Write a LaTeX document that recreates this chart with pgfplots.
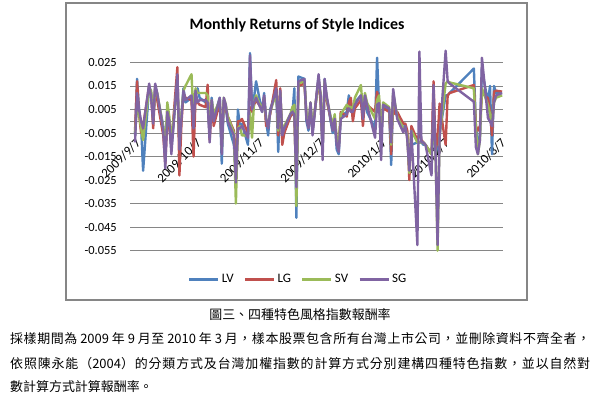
\documentclass[border=0pt]{standalone}
\usepackage{pgfplots}
\pgfplotsset{compat=1.18}
\usepackage{pgfplotstable}
\usepackage{fontspec}
\setmainfont{Carlito}
\newfontfamily\cjk{Noto Sans CJK TC}
\definecolor{cLV}{RGB}{79,129,189}
\definecolor{cLG}{RGB}{192,80,77}
\definecolor{cSV}{RGB}{155,187,89}
\definecolor{cSG}{RGB}{128,100,162}
\definecolor{gridc}{RGB}{134,134,134}
\newXeTeXintercharclass\cjkcls
\makeatletter
\count@="3000
\loop\ifnum\count@<"A000 \XeTeXcharclass\count@=\cjkcls \advance\count@\@ne\repeat
\count@="FF00
\loop\ifnum\count@<"FF61 \XeTeXcharclass\count@=\cjkcls \advance\count@\@ne\repeat
\makeatother
\XeTeXinterchartoks\cjkcls\cjkcls={\hskip0pt plus 1fil\relax}
\newcommand\cjkpar{\cjk\fontsize{13}{15}\selectfont\XeTeXinterchartokenstate=1 }
\pgfplotstableread{
d LV LG SV SG
0 -0.006 -0.004 -0.005 -0.009
1 0.018 0.017 0.006 0.012
2 0.005 0.003 0.003 0.005
3 -0.002 -0.005 -0.003 0.000
4 -0.021 -0.002 -0.008 -0.003
7 0.015 0.015 0.014 0.016
8 0.012 0.011 0.013 0.010
9 0.000 -0.003 0.001 -0.001
10 0.015 0.015 0.014 0.016
11 0.011 0.009 0.012 0.012
14 -0.002 -0.006 -0.003 -0.004
15 -0.016 -0.018 -0.012 -0.020
16 0.004 0.002 0.008 0.004
17 -0.001 -0.003 0.002 0.000
18 -0.012 -0.010 -0.009 -0.014
21 0.018 0.023 0.017 0.020
22 -0.010 -0.023 -0.009 -0.012
23 0.002 -0.001 0.003 0.001
24 0.014 0.012 0.013 0.013
25 0.008 0.010 0.015 0.009
28 0.010 0.009 0.020 0.011
29 -0.002 -0.015 0.002 -0.003
30 0.012 0.010 0.014 0.013
31 0.014 0.008 0.012 0.008
32 0.010 0.007 0.012 0.009
35 0.008 0.006 0.012 0.009
36 0.007 0.0155 0.011 0.008
37 -0.006 -0.008 -0.004 -0.009
38 0.010 0.008 0.009 0.009
39 0.001 -0.002 0.003 0.000
42 0.010 0.008 0.009 0.010
43 -0.018 -0.010 -0.012 -0.014
44 0.009 0.008 0.010 0.010
45 0.006 0.005 0.007 0.007
46 -0.001 0.002 0.002 0.000
49 -0.010 -0.004 -0.005 -0.006
50 -0.022 -0.020 -0.035 -0.026
51 0.005 0.000 -0.003 -0.003
52 -0.002 0.000 -0.002 -0.003
53 -0.001 0.001 -0.006 -0.002
56 -0.010 -0.005 -0.006 -0.007
57 0.029 0.006 0.004 0.028
58 0.006 0.004 -0.007 0.005
59 0.010 0.007 0.008 0.008
60 0.017 0.009 0.011 0.010
63 0.004 0.005 0.005 0.004
64 0.012 0.010 0.010 0.011
65 0.000 -0.002 0.001 0.001
66 -0.006 -0.001 -0.002 -0.003
67 0.005 0.003 0.004 0.004
70 0.013 0.0175 0.012 0.014
71 -0.013 -0.006 -0.004 -0.003
72 0.012 0.014 0.012 0.013
73 -0.008 -0.010 -0.005 -0.006
74 -0.004 -0.005 -0.002 -0.003
77 0.002 0.002 0.003 0.003
78 0.003 0.004 0.006 0.004
79 0.014 0.002 0.007 0.003
80 -0.041 -0.027 -0.036 -0.028
81 0.019 0.015 0.016 0.017
84 0.018 0.016 0.017 0.018
85 0.000 0.002 0.003 0.001
86 -0.004 -0.002 -0.001 -0.003
87 0.007 0.006 0.008 0.008
88 -0.005 -0.004 -0.003 -0.006
91 0.019 0.018 0.017 0.020
92 0.009 0.008 0.012 0.011
93 -0.012 -0.010 -0.011 -0.0165
94 0.018 0.016 0.017 0.018
95 0.010 0.009 0.010 0.011
98 -0.005 -0.003 -0.002 -0.004
99 0.000 0.002 0.003 0.001
100 -0.012 -0.008 -0.008 -0.010
101 -0.014 -0.011 -0.010 -0.013
102 0.002 0.004 0.003 0.001
105 0.004 0.002 0.007 0.003
106 0.011 0.008 0.006 0.0055
107 0.005 0.010 0.006 0.004
108 0.003 0.000 0.0055 0.004
109 0.008 0.0055 0.010 0.007
112 0.011 0.009 0.0154 0.011
113 0.003 -0.002 0.004 0.001
114 0.009 0.010 0.012 0.011
115 0.004 0.007 0.008 0.007
119 -0.003 0.004 0.001 -0.007
120 0.027 0.0125 0.009 0.007
121 0.007 0.009 0.011 0.0077
122 -0.004 -0.006 -0.008 -0.0165
123 0.006 0.0055 0.008 0.007
126 0.005 0.004 0.006 0.0055
127 -0.0186 -0.014 -0.010 -0.009
128 0.012 0.011 0.012 0.0137
129 0.006 0.003 0.007 0.007
130 0.002 0.004 0.002 0.001
133 -0.0027 -0.001 -0.003 -0.0047
134 -0.002 -0.001 -0.003 -0.002
135 -0.006 -0.004 -0.006 -0.008
136 -0.020 -0.025 -0.022 -0.021
137 -0.010 -0.002 -0.004 -0.004
140 -0.009 -0.008 -0.009 -0.0526
141 -0.009 -0.005 -0.009 0.0296
142 -0.009 -0.008 -0.009 -0.009
143 -0.010 -0.009 -0.009 -0.009
144 -0.010 -0.010 -0.010 -0.010
147 -0.014 -0.014 -0.014 -0.023
148 0.000 0.017 0.002 0.0154
149 -0.014 -0.012 -0.014 -0.014
150 -0.010 -0.008 -0.055 -0.0526
151 -0.005 0.0075 -0.006 -0.0075
154 0.011 -0.010 0.016 0.030
155 0.011 0.011 0.017 0.017
156 0.012 0.012 0.0165 0.016
168 0.0224 0.0154 0.014 0.0083
169 -0.002 -0.002 -0.003 -0.011
170 -0.010 -0.004 -0.014 -0.014
171 -0.006 -0.002 -0.008 -0.008
172 0.022 0.012 0.014 0.027
175 0.008 0.0098 0.0069 0.0013
176 0.015 0.004 0.003 0.000
177 -0.014 -0.006 -0.001 -0.002
178 0.015 0.0126 0.008 0.008
179 0.012 0.013 0.010 0.011
182 0.012 0.0126 0.011 0.012
}\datatable
\begin{document}
\begin{tikzpicture}[x=1bp,y=1bp]
\path[use as bounding box] (0,0) rectangle (600,399);
\draw[gridc, line width=1.3bp] (66,99) rectangle (527,396);
\node[font=\bfseries\fontsize{16}{19}\selectfont, anchor=base, inner sep=0pt] at (297,369.5) {Monthly Returns of Style Indices};
\begin{axis}[
  at={(130bp,148.3bp)}, anchor=south west,
  width=373.1bp, height=202.4bp, scale only axis,
  xmin=-2.5, xmax=182.5, ymin=-0.055, ymax=0.031,
  clip=false,
  scaled y ticks=false, scaled x ticks=false,
  axis x line*=middle, axis y line*=left,
  x axis line style={gridc, line width=0.9bp},
  y axis line style={draw=none},
  major tick length=0pt,
  ymajorgrids, grid style={gridc, line width=0.9bp},
  ytick={-0.055,-0.045,-0.035,-0.025,-0.015,-0.005,0.005,0.015,0.025},
  yticklabels={-0.055,-0.045,-0.035,-0.025,-0.015,-0.005,0.005,0.015,0.025},
  yticklabel style={font=\fontsize{12.5}{14}\selectfont, anchor=east, inner sep=0pt, xshift=-13bp},
  xtick={0,30,61,91,122,153,181},
  xticklabels={2009/9/7,2009/10/7,2009/11/7,2009/12/7,2010/1/7,2010/2/7,2010/3/7},
  xticklabel style={font=\fontsize{13}{15}\selectfont, rotate=45, anchor=north east, inner sep=0pt},
  xticklabel shift=16bp,
  legend style={at={(0.4503,-0.14)}, anchor=center, draw=none, fill=none,
    legend columns=4, font=\fontsize{13}{15}\selectfont,
    /tikz/every even column/.append style={column sep=8bp}},
  legend image code/.code={\draw[#1, line width=3bp] (0bp,0bp) -- (29bp,0bp);},
]
\addplot[cLV, line width=2.4bp, line join=round, mark=none] table[x=d,y=LV]{\datatable};
\addlegendentry{LV}
\addplot[cLG, line width=2.4bp, line join=round, mark=none] table[x=d,y=LG]{\datatable};
\addlegendentry{LG}
\addplot[cSV, line width=2.4bp, line join=round, mark=none] table[x=d,y=SV]{\datatable};
\addlegendentry{SV}
\addplot[cSG, line width=2.4bp, line join=round, mark=none] table[x=d,y=SG]{\datatable};
\addlegendentry{SG}
\end{axis}
\node[font=\cjk\fontsize{13}{15}\selectfont, anchor=base, inner sep=0pt] at (300,80) {圖三、四種特色風格指數報酬率};
\node[font=\cjkpar, anchor=base west, inner sep=0pt] at (10,56) {\hbox to 580bp{採樣期間為 2009 年 9 月至 2010 年 3 月，樣本股票包含所有台灣上市公司，並刪除資料不齊全者，}};
\node[font=\cjkpar, anchor=base west, inner sep=0pt] at (10,31) {\hbox to 580bp{依照陳永能（2004）的分類方式及台灣加權指數的計算方式分別建構四種特色指數，並以自然對}};
\node[font=\cjkpar, anchor=base west, inner sep=0pt] at (10,8) {數計算方式計算報酬率。};
\end{tikzpicture}
\end{document}
